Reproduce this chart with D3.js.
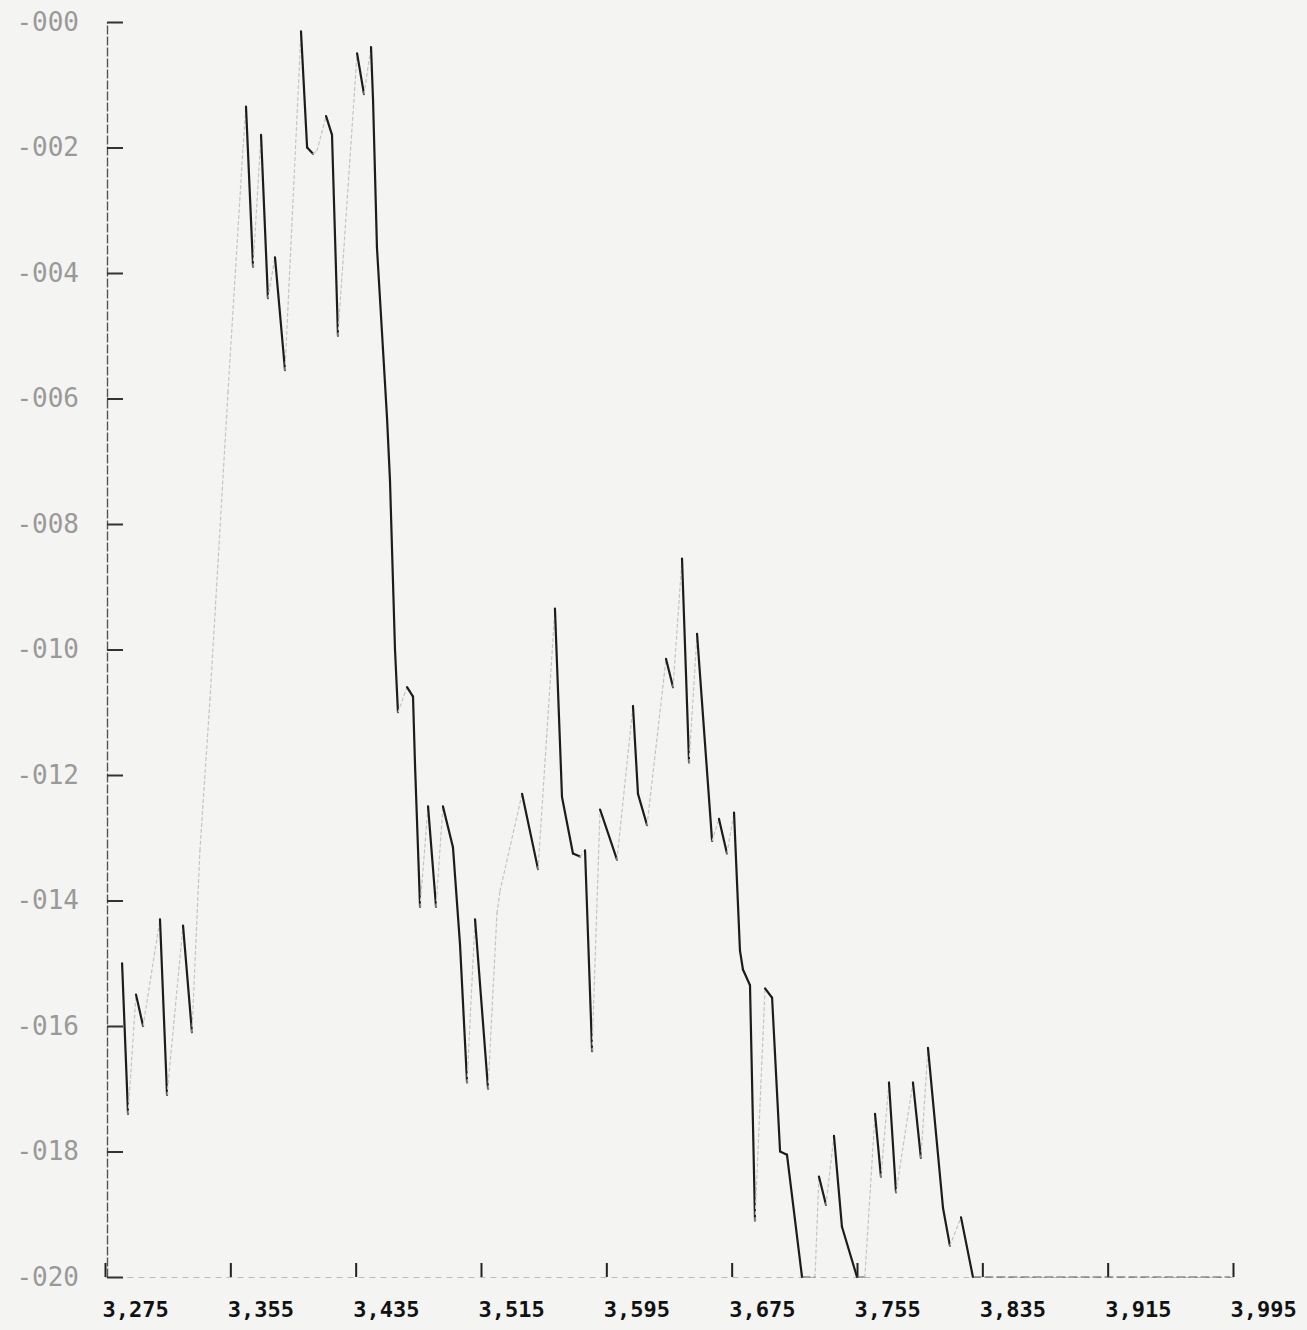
<!DOCTYPE html>
<html>
<head>
<meta charset="utf-8">
<script src="https://cdn.jsdelivr.net/npm/d3@7"></script>
<style>
  body { margin: 0; background: #f4f4f2; }
  svg { display: block; }
</style>
</head>
<body>
<div class="plot"></div>
<script>
const width = 1307;
const height = 1330;

// depth along x, reading in thousandths (negative = down)
const xValues = [
  3285.9, 3289.7, 3294.8, 3299.3, 3310.1, 3314.6, 3324.8, 3330.5, 3335.6, 3342.0,
  3353.5, 3363.1, 3365.0, 3369.5, 3374.6, 3379.0, 3383.5, 3389.9, 3400.1, 3404.0,
  3407.8, 3410.3, 3416.1, 3419.9, 3423.7, 3435.9, 3440.3, 3444.8, 3446.1, 3448.6,
  3452.4, 3455.0, 3456.9, 3458.8, 3460.1, 3462.0, 3467.8, 3471.6, 3472.9, 3476.1,
  3481.2, 3486.3, 3490.7, 3497.1, 3501.6, 3506.1, 3511.2, 3519.5, 3525.2, 3527.1,
  3541.2, 3551.4, 3562.2, 3566.7, 3573.7, 3578.2, 3581.4, 3585.9, 3591.0, 3601.8,
  3612.0, 3615.2, 3621.0, 3633.1, 3637.6, 3643.3, 3647.8, 3652.9, 3662.5, 3666.9,
  3672.0, 3676.5, 3680.3, 3682.2, 3686.7, 3689.9, 3696.3, 3700.8, 3705.9, 3710.3,
  3719.9, 3728.2, 3730.7, 3735.2, 3740.3, 3745.4, 3755.0, 3760.0, 3766.5, 3770.3,
  3775.4, 3779.9, 3790.7, 3795.8, 3800.3, 3809.9, 3814.3, 3821.4, 3829.0, 3993.0
];
const yValues = [
  -15.0, -17.4, -15.5, -16.0, -14.3, -17.1, -14.4, -16.1, -13.2, -10.8,
  -5.9, -2.0, -1.35, -3.9, -1.8, -4.4, -3.75, -5.55, -0.15, -2.0,
  -2.1, -2.05, -1.5, -1.8, -5.0, -0.5, -1.15, -0.4, -1.25, -3.6,
  -5.2, -6.3, -7.3, -8.9, -10.0, -11.0, -10.6, -10.75, -11.85, -14.1,
  -12.5, -14.1, -12.5, -13.15, -14.7, -16.9, -14.3, -17.0, -14.2, -13.85,
  -12.3, -13.5, -9.35, -12.35, -13.25, -13.3, -13.2, -16.4, -12.55, -13.35,
  -10.9, -12.3, -12.8, -10.15, -10.6, -8.55, -11.8, -9.75, -13.05, -12.7,
  -13.25, -12.6, -14.8, -15.1, -15.35, -19.1, -15.4, -15.55, -18.0, -18.05,
  -20.0, -20.0, -18.4, -18.85, -17.75, -19.2, -20.0, -20.0, -17.4, -18.4,
  -16.9, -18.65, -16.9, -18.1, -16.35, -18.9, -19.5, -19.05, -20.0, -20.0
];

const xTicks = [3275, 3355, 3435, 3515, 3595, 3675, 3755, 3835, 3915, 3995];
const yTicks = [0, -2, -4, -6, -8, -10, -12, -14, -16, -18, -20];

const svg = d3
  .select(".plot")
  .append("svg")
  .attr("width", width)
  .attr("height", height);

const x_scale = d3.scaleLinear().domain([3275, 3995]).range([105, 1233]);
const y_scale = d3.scaleLinear().domain([-20, 0]).range([1277, 22]);

//x-axis, ticks point up into the plot
const x_axis = d3
  .axisBottom(x_scale)
  .tickValues(xTicks)
  .tickSize(-14)
  .tickSizeOuter(0)
  .tickPadding(24)
  .tickFormat(d3.format(","));

const xg = svg
  .append("g")
  .attr("transform", "translate(0," + y_scale(-20) + ")")
  .call(x_axis);

xg.select(".domain")
  .attr("stroke", "#bbb")
  .attr("stroke-dasharray", "6,5");
xg.selectAll(".tick line").attr("stroke", "#222").attr("stroke-width", 2);
xg.selectAll(".tick text")
  .attr("text-anchor", "start")
  .attr("dx", -3)
  .attr("fill", "#111")
  .style("font-family", "'DejaVu Sans Mono', 'Liberation Mono', monospace")
  .style("font-weight", "bold")
  .style("font-size", "22px");

//y-axis, ticks point right
const y_axis = d3
  .axisLeft(y_scale)
  .tickValues(yTicks)
  .tickSize(-16)
  .tickSizeOuter(0)
  .tickPadding(28)
  .tickFormat(d => "-" + d3.format("03d")(Math.abs(d)));

const yg = svg
  .append("g")
  .attr("transform", "translate(107,0)")
  .call(y_axis);

yg.select(".domain")
  .attr("stroke", "#555")
  .attr("stroke-width", 1.4)
  .attr("stroke-dasharray", "9,2");
yg.selectAll(".tick line").attr("stroke", "#333").attr("stroke-width", 2);
yg.selectAll(".tick text")
  .attr("fill", "#999")
  .style("font-family", "'DejaVu Sans Mono', 'Liberation Mono', monospace")
  .style("font-size", "26px");

// pen trace: falling strokes dark, rising strokes faint, clipped floor dashed
const points = xValues.map((v, i) => [v, yValues[i]]);
const segs = d3.pairs(points);

const line = d3
  .line()
  .x(d => x_scale(d[0]))
  .y(d => y_scale(d[1]));

svg
  .append("g")
  .selectAll("path")
  .data(segs)
  .enter()
  .append("path")
  .attr("d", d => line(d))
  .attr("fill", "none")
  .attr("stroke-linecap", "round")
  .attr("stroke", d => {
    if (d[1][1] < d[0][1]) return "#1c1c1c";
    if (d[1][1] > d[0][1]) return "#c4c4c4";
    return "#555";
  })
  .attr("stroke-width", d => (d[1][1] < d[0][1] ? 2.2 : 1.2))
  .attr("stroke-dasharray", d => {
    if (d[1][1] > d[0][1]) return "3,3";
    if (d[1][1] == d[0][1]) return "8,4";
    return null;
  });
</script>
</body>
</html>
